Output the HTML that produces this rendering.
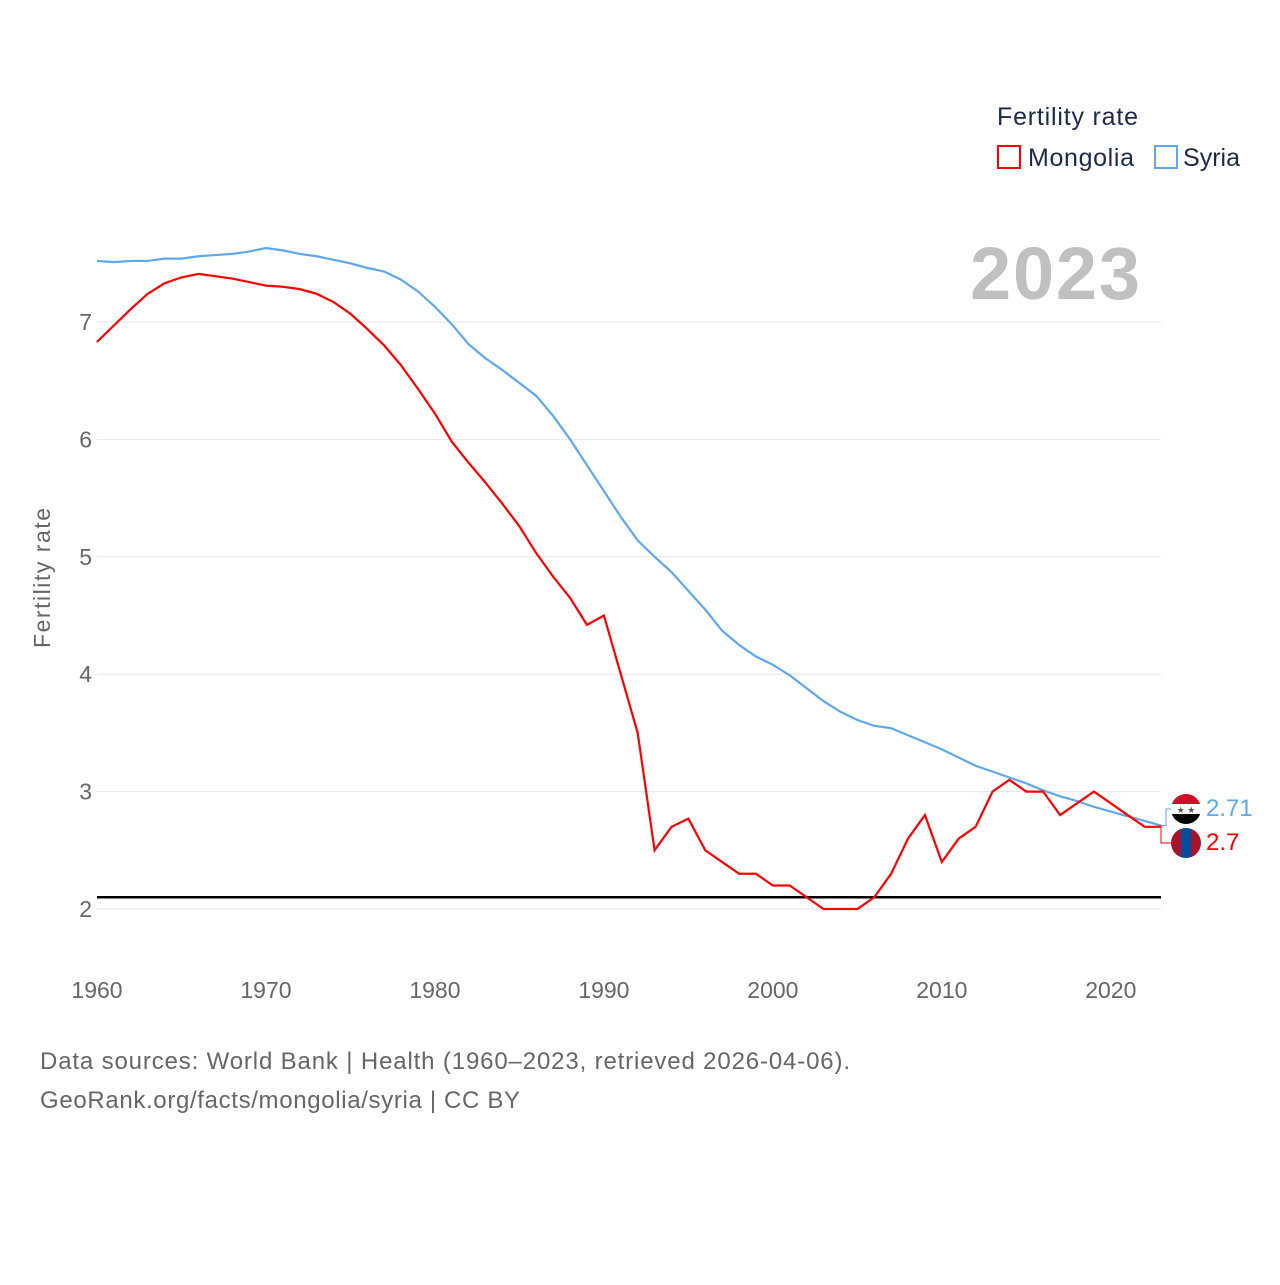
<!DOCTYPE html>
<html><head><meta charset="utf-8"><style>
body{margin:0;background:#fff;font-family:"Liberation Sans",sans-serif}
svg text{font-family:"Liberation Sans",sans-serif}
</style></head><body>
<svg id="chart" width="1280" height="1280" xmlns="http://www.w3.org/2000/svg">
<defs>
<clipPath id="c1"><circle cx="1186" cy="809" r="15"/></clipPath>
<clipPath id="c2"><circle cx="1186" cy="843" r="15"/></clipPath>
</defs>
<text x="997" y="125" font-size="25" fill="#1b2a4a" textLength="141">Fertility rate</text>
<g><rect x="998" y="146" width="22" height="22" fill="none" stroke="#f00" stroke-width="2"/><text x="1028" y="166" font-size="25" fill="#1b2a4a" textLength="106">Mongolia</text></g>
<g><rect x="1155" y="146" width="22" height="22" fill="none" stroke="#5ea8ee" stroke-width="2"/><text x="1183" y="166" font-size="25" fill="#1b2a4a" textLength="57">Syria</text></g>
<text x="970" y="299" font-size="74" font-weight="bold" fill="#c0c0c0" textLength="170">2023</text>
<text transform="translate(50,578) rotate(-90)" font-size="23" fill="#666" text-anchor="middle" textLength="140">Fertility rate</text>
<g id="grid"></g><g id="series"></g>
<g clip-path="url(#c1)"><rect x="1171" y="794" width="30" height="10" fill="#ce1126"/><rect x="1171" y="804" width="30" height="10" fill="#fff"/><rect x="1171" y="814" width="30" height="10" fill="#000"/><text x="1186" y="813" font-size="9" fill="#555" text-anchor="middle">★ ★</text></g>
<g clip-path="url(#c2)"><rect x="1171" y="828" width="10" height="30" fill="#a8122a"/><rect x="1181" y="828" width="10" height="30" fill="#0150a0"/><rect x="1191" y="828" width="10" height="30" fill="#a8122a"/></g>
<text x="1206" y="816" font-size="24" fill="#5ea8ee">2.71</text>
<text x="1206" y="850" font-size="24" fill="#f00">2.7</text>
<text x="40" y="1069" font-size="24" fill="#666" textLength="810">Data sources: World Bank | Health (1960–2023, retrieved 2026-04-06).</text>
<text x="40" y="1108" font-size="24" fill="#666" textLength="480">GeoRank.org/facts/mongolia/syria | CC BY</text>
</svg>
<script>
const years=[];for(let y=1960;y<=2023;y++)years.push(y);
const syria=[7.52,7.51,7.52,7.52,7.54,7.54,7.56,7.57,7.58,7.60,7.63,7.61,7.58,7.56,7.53,7.50,7.46,7.43,7.36,7.26,7.13,6.98,6.81,6.69,6.59,6.48,6.37,6.20,6.00,5.78,5.56,5.34,5.14,5.00,4.87,4.71,4.55,4.37,4.25,4.15,4.08,3.99,3.88,3.77,3.68,3.61,3.56,3.54,3.48,3.42,3.36,3.29,3.22,3.17,3.12,3.07,3.01,2.96,2.92,2.87,2.83,2.79,2.75,2.71];
const mongolia=[6.83,6.97,7.11,7.24,7.33,7.38,7.41,7.39,7.37,7.34,7.31,7.30,7.28,7.24,7.17,7.07,6.94,6.80,6.63,6.43,6.22,5.98,5.80,5.63,5.45,5.26,5.03,4.83,4.65,4.42,4.50,4.0,3.5,2.5,2.7,2.77,2.5,2.4,2.3,2.3,2.2,2.2,2.1,2.0,2.0,2.0,2.1,2.3,2.6,2.8,2.4,2.6,2.7,3.0,3.1,3.0,3.0,2.8,2.9,3.0,2.9,2.8,2.7,2.7];
const yTicks=[2,3,4,5,6,7];
const xTicks=[1960,1970,1980,1990,2000,2010,2020];
const replacement=2.1;
const NS="http://www.w3.org/2000/svg";
const X=y=>97+(y-1960)*(1161.5-97)/63;
const Y=v=>909-(v-2)*117.4;
const grid=document.getElementById('grid'),ser=document.getElementById('series');
function mk(tag,attrs,parent){const e=document.createElementNS(NS,tag);for(const k in attrs)e.setAttribute(k,attrs[k]);parent.appendChild(e);return e;}
yTicks.forEach(t=>{
 const l=mk('line',{x1:97,x2:1161,y1:Y(t),y2:Y(t),stroke:'#e6e6e6','stroke-width':1},grid);
 
 
 const tx=mk('text',{x:92,y:Y(t)+8,'font-size':23,fill:'#666','text-anchor':'end'},grid);tx.textContent=t;
 
 
});
xTicks.forEach(t=>{
 const tx=mk('text',{x:X(t),y:998,'font-size':23,fill:'#666','text-anchor':'middle'},grid);tx.textContent=t;
 
 
});
const rl=mk('line',{x1:97,x2:1161,y1:Y(replacement),y2:Y(replacement),stroke:'#000','stroke-width':2.5},ser);


function line(data,color,name){
 const p=mk('polyline',{points:data.map((v,i)=>X(years[i])+','+Y(v)).join(' '),fill:'none',stroke:color,'stroke-width':2.2},ser);
 
 
}
line(syria,'#5ea8ee','syria-line');
line(mongolia,'#f00','mongolia-line');
const lx=X(2023);
const c1=mk('polyline',{points:`${lx},${Y(syria[63])} 1166,${Y(syria[63])} 1166,809 1171,809`,fill:'none',stroke:'#5ea8ee','stroke-width':1},ser);


const c2=mk('polyline',{points:`${lx},${Y(mongolia[63])} 1161,${Y(mongolia[63])} 1161,843 1171,843`,fill:'none',stroke:'#f00','stroke-width':1},ser);


</script>
</body></html>
